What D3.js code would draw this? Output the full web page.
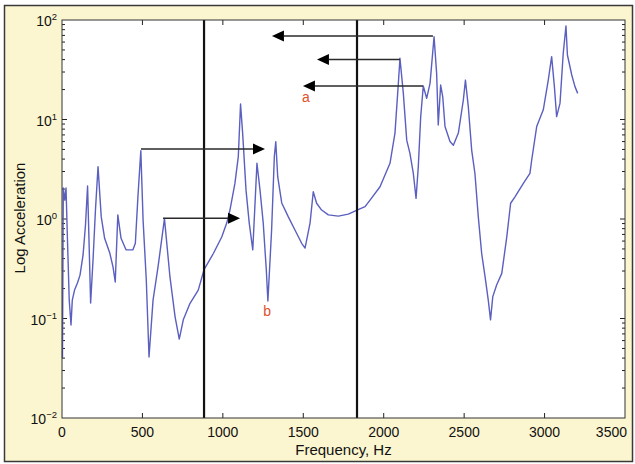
<!DOCTYPE html>
<html>
<head>
<meta charset="utf-8">
<script src="https://cdn.jsdelivr.net/npm/d3@7"></script>
<style>
  html,body{margin:0;padding:0;background:#fff}
  svg{display:block;font-family:"Liberation Sans",Arial,sans-serif}
</style>
</head>
<body>
<svg id="chart" width="635" height="464"></svg>
<script>
// frequency response
const freq=[3,8,17,25,34,45,56,64,78,96,112,131,146,159,178,193,208,224,244,265,297,317,331,347,367,398,441,456,472,490,504,524,541,566,597,637,671,703,729,754,796,847,883,941,993,1024,1044,1075,1096,1110,1123,1144,1164,1186,1212,1231,1251,1270,1280,1303,1320,1329,1341,1366,1407,1449,1490,1511,1542,1562,1583,1614,1656,1718,1780,1834,1884,1915,1977,2039,2070,2091,2101,2122,2143,2163,2184,2201,2215,2230,2246,2267,2288,2313,2329,2339,2354,2367,2381,2412,2433,2464,2495,2508,2526,2547,2567,2588,2609,2630,2650,2664,2678,2702,2734,2765,2789,2816,2868,2909,2920,2951,2992,3023,3044,3061,3075,3096,3116,3133,3142,3169,3189,3206];
const accel=[0.040,2.05,1.55,2.05,0.62,0.153,0.086,0.153,0.193,0.227,0.273,0.435,0.87,2.15,0.143,0.39,1.23,3.36,1.05,0.64,0.455,0.33,0.233,1.10,0.64,0.49,0.49,0.57,1.67,4.86,0.98,0.244,0.041,0.153,0.33,1.01,0.263,0.104,0.062,0.097,0.142,0.193,0.31,0.45,0.66,0.91,1.23,2.28,4.23,14.3,7.3,1.95,0.91,0.49,3.63,1.95,0.91,0.31,0.15,0.77,4.23,5.98,2.66,1.45,1.05,0.77,0.57,0.51,0.91,1.88,1.44,1.23,1.10,1.07,1.12,1.23,1.33,1.55,2.11,3.63,7.3,23.1,41.2,18.3,6.2,4.57,2.88,1.61,3.36,10.7,21.7,16.3,23.1,67.9,29.1,8.8,22.2,16.9,8.5,6.0,5.5,7.3,15.7,24.9,13.4,4.9,2.88,1.05,0.45,0.263,0.153,0.097,0.166,0.217,0.284,0.66,1.44,1.67,2.28,2.88,3.92,8.5,12.5,24.9,42.8,21.4,10.7,14.6,46.3,87,44.5,28,21.4,18.3];

// horizontal arrows: start freq, tip freq, level
const arrowFrom=[2306,2101,2244,491,628];
const arrowTo=[1305,1585,1498,1262,1107];
const arrowLevel=[69,40.1,21.7,5.06,1.02];

// vertical markers
const markerFreq=[883,1834];

// letter annotations
const noteText=["a","b"];
const noteFreq=[1517,1275];
const noteLevel=[16.8,0.12];

const xTicks=[0,500,1000,1500,2000,2500,3000,3500];
const yTicks=[1e-2,1e-1,1,10,100];
const yExp=["\u22122","\u22121","0","1","2"];

const svg=d3.select("#chart");
const m={l:62,t:20};
const pw=625-62, ph=418-20;

// yellow frame
svg.append("rect").attr("x",4.5).attr("y",5.5).attr("width",628).attr("height",456)
  .attr("fill","#fcf6d0").attr("stroke","#3a3a3a").attr("stroke-width",1.5);

const x=d3.scaleLinear().domain([0,3500]).range([m.l,m.l+pw]);
const y=d3.scaleLog().domain([1e-2,1e2]).range([m.t+ph,m.t]);

const g=svg.append("g");
g.append("rect").attr("x",m.l).attr("y",m.t).attr("width",pw).attr("height",ph)
  .attr("fill","#fff");

// ticks inside on all sides
const minor=[];
for(let e=-2;e<2;e++)for(let k=2;k<=9;k++)minor.push(k*Math.pow(10,e));
const tk=g.append("g").attr("stroke","#222").attr("stroke-width",1);
xTicks.slice(1,-1).forEach(t=>{
  tk.append("line").attr("x1",x(t)).attr("x2",x(t)).attr("y1",m.t+ph).attr("y2",m.t+ph-5);
  tk.append("line").attr("x1",x(t)).attr("x2",x(t)).attr("y1",m.t).attr("y2",m.t+5);
});
yTicks.slice(1,-1).forEach(t=>{
  tk.append("line").attr("x1",m.l).attr("x2",m.l+5).attr("y1",y(t)).attr("y2",y(t));
  tk.append("line").attr("x1",m.l+pw).attr("x2",m.l+pw-5).attr("y1",y(t)).attr("y2",y(t));
});
minor.forEach(t=>{
  tk.append("line").attr("x1",m.l).attr("x2",m.l+3).attr("y1",y(t)).attr("y2",y(t));
  tk.append("line").attr("x1",m.l+pw).attr("x2",m.l+pw-3).attr("y1",y(t)).attr("y2",y(t));
});

// tick labels
const xl=svg.append("g").attr("font-size",14).attr("fill","#111");
xTicks.forEach((t,i)=>{
  const last=i===xTicks.length-1;
  xl.append("text").attr("x",last?627:x(t)).attr("y",437)
    .attr("text-anchor",last?"end":"middle").text(t);
});
const yl=svg.append("g").attr("font-size",14).attr("fill","#111").attr("text-anchor","end");
yTicks.forEach((t,i)=>{
  const tx=yl.append("text").attr("x",57).attr("y",y(t)+6);
  tx.append("tspan").text("10");
  tx.append("tspan").attr("dy",-6).attr("font-size",9.5).text(yExp[i]);
});

// axis titles
svg.append("text").attr("x",x(1750)).attr("y",455).attr("text-anchor","middle")
  .attr("font-size",15).attr("fill","#111").text("Frequency, Hz");
svg.append("text").attr("transform","translate(25,218) rotate(-90)")
  .attr("text-anchor","middle").attr("font-size",15).attr("fill","#111").text("Log Acceleration");

// curve
const pts=freq.map((f,i)=>[f,accel[i]]);
g.append("path").datum(pts)
  .attr("fill","none").attr("stroke","#5a5fc0").attr("stroke-width",1.4)
  .attr("stroke-linejoin","round")
  .attr("d",d3.line().x(d=>x(d[0])).y(d=>y(d[1])));

// vertical markers
markerFreq.forEach(f=>{
  g.append("line").attr("x1",x(f)).attr("x2",x(f)).attr("y1",m.t).attr("y2",m.t+ph)
    .attr("stroke","#111").attr("stroke-width",2.2);
});

// arrows
arrowFrom.forEach((f0,i)=>{
  const f1=arrowTo[i],yy=y(arrowLevel[i]);
  const x0=x(f0),x1=x(f1),dir=x1<x0?1:-1;
  const hl=12,hw=5.5;
  g.append("line").attr("x1",x0).attr("x2",x1+dir*hl).attr("y1",yy).attr("y2",yy)
    .attr("stroke","#2a2a2a").attr("stroke-width",1.5);
  g.append("path")
    .attr("d","M"+x1+","+yy+"L"+(x1+dir*hl)+","+(yy-hw)+"L"+(x1+dir*hl)+","+(yy+hw)+"Z")
    .attr("fill","#000");
});

// letter notes
noteText.forEach((t,i)=>{
  g.append("text").attr("x",x(noteFreq[i])).attr("y",y(noteLevel[i]))
    .attr("dy","0.35em").attr("text-anchor","middle").attr("font-size",14)
    .attr("fill","#e0502c").text(t);
});

// plot border
g.append("rect").attr("x",m.l).attr("y",m.t).attr("width",pw).attr("height",ph)
  .attr("fill","none").attr("stroke","#333").attr("stroke-width",1);
</script>
</body>
</html>
